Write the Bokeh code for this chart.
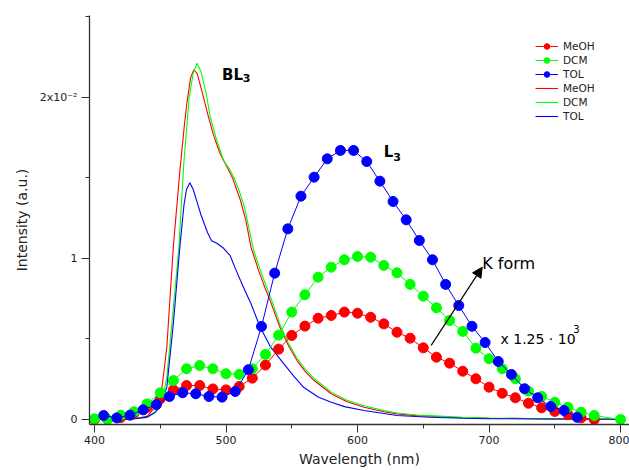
from bokeh.plotting import figure
from bokeh.models import (Range1d, FixedTicker, Legend, LegendItem, Label, Arrow, NormalHead)
from bokeh.embed import file_html
from bokeh.resources import INLINE

# ---- data (intensity in units of 1e-2) ----
# marker series (scaled x 1.25e3, L3 / K form)
meoh_dot_wl = [400, 410, 420, 430, 440, 450, 460, 470, 480, 490, 500, 510, 520, 530, 540,
               550, 560, 570, 580, 590, 600, 610, 620, 630, 640, 650, 660, 670, 680, 690,
               700, 710, 720, 730, 740, 750, 760, 770, 780]
meoh_dot = [0.0, 0.0, 0.012, 0.038, 0.075, 0.128, 0.184, 0.211, 0.211, 0.19, 0.184, 0.205, 0.257,
            0.338, 0.437, 0.522, 0.58, 0.629, 0.646, 0.667, 0.66, 0.635, 0.594, 0.542, 0.505,
            0.445, 0.387, 0.35, 0.30, 0.253, 0.201, 0.163, 0.135, 0.101, 0.073, 0.05, 0.031,
            0.01, 0.0]

dcm_dot_wl = [400, 410, 420, 430, 440, 450, 460, 470, 480, 490, 500, 510, 520, 530, 540,
              550, 560, 570, 580, 590, 600, 610, 620, 630, 640, 650, 660, 670, 680, 690,
              700, 710, 720, 730, 740, 750, 760, 770, 780, 800]
dcm_dot = [0.004, 0.0, 0.027, 0.048, 0.097, 0.166, 0.242, 0.315, 0.335, 0.315, 0.284, 0.28,
           0.315, 0.404, 0.524, 0.667, 0.775, 0.884, 0.946, 0.992, 1.012, 1.008, 0.957, 0.911,
           0.839, 0.766, 0.694, 0.615, 0.547, 0.443, 0.377, 0.315, 0.253, 0.176, 0.143, 0.107,
           0.076, 0.045, 0.025, 0.0]

tol_dot_wl = [407, 417, 427, 437, 447, 457, 467, 477, 487, 497, 507, 517, 527, 537, 547,
              557, 567, 577, 587, 597, 607, 617, 627, 637, 647, 657, 667, 677, 687, 697,
              707, 717, 727, 737, 747, 757, 767]
tol_dot = [0.025, 0.01, 0.027, 0.06, 0.093, 0.143, 0.166, 0.16, 0.143, 0.139, 0.174, 0.309,
           0.578, 0.909, 1.184, 1.387, 1.505, 1.619, 1.671, 1.671, 1.602, 1.48, 1.354, 1.24,
           1.112, 0.992, 0.839, 0.708, 0.579, 0.478, 0.36, 0.28, 0.191, 0.135, 0.081, 0.056,
           0.014]

# plain line series (BL3)
meoh_line_wl = [400, 420, 430, 440, 446, 451, 455, 460, 465, 468, 470, 473, 475.5, 478, 482,
                486, 490, 495, 500, 505, 511, 515, 519, 525, 530, 534, 541, 548, 554, 560,
                567, 580, 592, 605, 620, 630, 645, 655, 680, 700, 750, 800]
meoh_line = [0.0, 0.0, 0.005, 0.02, 0.076, 0.18, 0.45, 1.08, 1.55, 1.8, 1.95, 2.12, 2.172, 2.15,
             2.03, 1.9, 1.78, 1.66, 1.58, 1.5, 1.36, 1.24, 1.07, 0.92, 0.81, 0.729, 0.573, 0.45,
             0.366, 0.3, 0.242, 0.16, 0.11, 0.076, 0.048, 0.035, 0.024, 0.02, 0.011, 0.008,
             0.004, 0.002]

dcm_line_wl = [400, 420, 430, 440, 446, 451, 455, 460, 464, 468, 472, 475, 478, 481, 485,
               488, 492, 498, 503, 506, 510, 514, 521, 526, 530, 535, 541, 548, 554, 560,
               567, 580, 592, 605, 620, 630, 645, 655, 680, 700, 750, 800]
dcm_line = [0.0, 0.0, 0.004, 0.012, 0.04, 0.1, 0.26, 0.7, 1.05, 1.6, 2.0, 2.15, 2.213, 2.16,
            2.02, 1.88, 1.76, 1.61, 1.55, 1.505, 1.42, 1.32, 1.05, 0.93, 0.84, 0.735, 0.59,
            0.465, 0.38, 0.315, 0.255, 0.17, 0.12, 0.085, 0.055, 0.04, 0.028, 0.024, 0.013,
            0.009, 0.004, 0.002]

tol_line_wl = [400, 420, 430, 440, 445, 450, 455, 460, 465, 468, 470, 472.5, 475, 478, 481,
               486, 489, 493, 498, 503, 507, 511, 515, 519, 526, 534, 541, 546, 552, 559,
               570, 580, 590, 605, 630, 655, 680, 700, 750, 800]
tol_line = [0.0, 0.0, 0.005, 0.015, 0.04, 0.076, 0.2, 0.6, 1.08, 1.33, 1.43, 1.47, 1.43, 1.35,
            1.27, 1.16, 1.11, 1.095, 1.065, 1.02, 0.94, 0.863, 0.79, 0.719, 0.573, 0.449,
            0.377, 0.325, 0.265, 0.2, 0.14, 0.107, 0.08, 0.056, 0.025, 0.014, 0.008, 0.005,
            0.003, 0.002]

x_major = [400, 500, 600, 700, 800]
x_minor = [450, 550, 650, 750]
y_major = [0, 1, 2]
y_minor = [0.5, 1.5, 2.5]
y_labels = {0: "0", 1: "1", 2: "2x10\u207b\u00b2"}

RED, GREEN, BLUE = "#ff0000", "#00ff00", "#0000ff"
FONT = "DejaVu Sans"

p = figure(width=629, height=470, output_backend="svg", toolbar_location=None,
           x_range=Range1d(396.2, 806.8), y_range=Range1d(-0.031, 2.509),
           min_border_left=89, min_border_right=0, min_border_top=15, min_border_bottom=46)
p.outline_line_color = None
p.xgrid.visible = False
p.ygrid.visible = False
p.background_fill_color = "white"
p.border_fill_color = "white"

# BL3 lines
l_meoh = p.line(meoh_line_wl, meoh_line, line_color=RED, line_width=1.1)
l_dcm = p.line(dcm_line_wl, dcm_line, line_color=GREEN, line_width=1.1)
l_tol = p.line(tol_line_wl, tol_line, line_color=BLUE, line_width=1.1)

# marker series
dl_meoh = p.line(meoh_dot_wl, meoh_dot, line_color=RED, line_width=1)
dm_meoh = p.scatter(meoh_dot_wl, meoh_dot, size=10, fill_color=RED, line_color=RED)
dl_dcm = p.line(dcm_dot_wl, dcm_dot, line_color=GREEN, line_width=1)
dm_dcm = p.scatter(dcm_dot_wl, dcm_dot, size=10, fill_color=GREEN, line_color=GREEN)
dl_tol = p.line(tol_dot_wl, tol_dot, line_color=BLUE, line_width=1)
dm_tol = p.scatter(tol_dot_wl, tol_dot, size=10, fill_color=BLUE, line_color=BLUE)

# axes
for ax in (p.xaxis[0], p.yaxis[0]):
    ax.axis_line_color = "#333333"
    ax.axis_line_width = 1.3
    ax.major_tick_line_color = "#333333"
    ax.minor_tick_line_color = "#333333"
    ax.major_tick_in = 0
    ax.minor_tick_in = 0
    ax.major_tick_out = 8
    ax.minor_tick_out = 4
    ax.major_label_text_font = FONT
    ax.major_label_text_font_size = "11px"
    ax.major_label_text_color = "#222222"
    ax.axis_label_text_font = FONT
    ax.axis_label_text_font_size = "14px"
    ax.axis_label_text_font_style = "normal"
    ax.axis_label_text_color = "#222222"

p.xaxis.ticker = FixedTicker(ticks=x_major, minor_ticks=x_minor)
p.yaxis.ticker = FixedTicker(ticks=y_major, minor_ticks=y_minor)
p.yaxis.major_label_overrides = y_labels
p.xaxis.axis_label = "Wavelength (nm)"
p.yaxis.axis_label = "Intensity (a.u.)"
p.xaxis.major_label_standoff = 3
p.xaxis.axis_label_standoff = 4
p.yaxis.major_label_standoff = 4
p.yaxis.axis_label_standoff = 7

# legend
legend = Legend(items=[
    LegendItem(label="MeOH", renderers=[dl_meoh, dm_meoh]),
    LegendItem(label="DCM", renderers=[dl_dcm, dm_dcm]),
    LegendItem(label="TOL", renderers=[dl_tol, dm_tol]),
    LegendItem(label="MeOH", renderers=[l_meoh]),
    LegendItem(label="DCM", renderers=[l_dcm]),
    LegendItem(label="TOL", renderers=[l_tol]),
], location=(446, 301))
legend.border_line_color = None
legend.background_fill_alpha = 0
legend.padding = 0
legend.margin = 0
legend.spacing = 0
legend.label_height = 14
legend.glyph_height = 14
legend.glyph_width = 23
legend.label_standoff = 5
legend.label_text_font = FONT
legend.label_text_font_size = "10.5px"
legend.label_text_color = "#222222"
p.add_layout(legend)

# annotations
def lab(x, y, text, size, style="normal"):
    p.add_layout(Label(x=x, y=y, text=text, text_font=FONT, text_font_size=size,
                       text_font_style=style, text_color="black",
                       text_baseline="alphabetic"))

lab(497.0, 2.137, "BL", "15px", "bold")
lab(512.8, 2.118, "3", "11px", "bold")
lab(620.0, 1.66, "L", "15px", "bold")
lab(627.2, 1.633, "3", "11px", "bold")
lab(694.8, 0.967, "K form", "16px")
lab(708.7, 0.501, "x 1.25 \u00b7 10", "14px")
lab(764.0, 0.56, "3", "10px")

p.add_layout(Arrow(x_start=656.0, y_start=0.46, x_end=694.8, y_end=0.946,
                   line_color="black", line_width=1.2,
                   end=NormalHead(size=10, fill_color="black", line_color="black")))

open("out.html", "w").write(file_html(p, INLINE))
